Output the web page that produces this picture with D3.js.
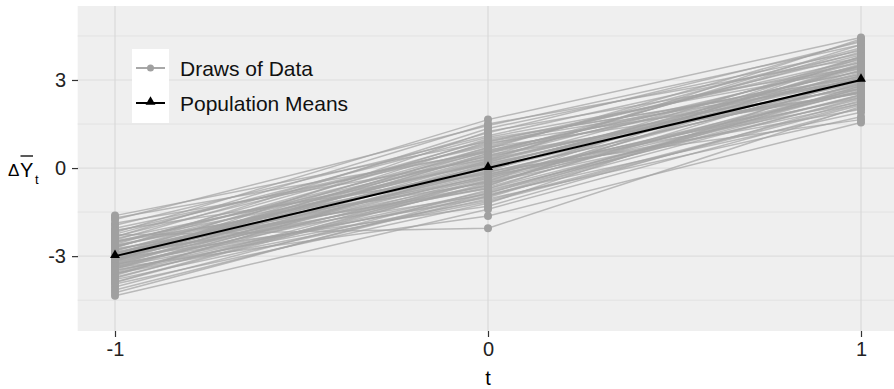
<!DOCTYPE html>
<html>
<head>
<meta charset="utf-8">
<script src="https://cdn.jsdelivr.net/npm/d3@7"></script>
<style>
  html, body { margin: 0; padding: 0; background: #ffffff; }
  svg { display: block; font-family: "Liberation Sans", Arial, sans-serif; }
</style>
</head>
<body>
<div id="chart"></div>
<script>
// ---------------- data ----------------
const times = [-1, 0, 1];
const xTickLabels = ["-1", "0", "1"];
const yTicks = [-3, 0, 3];
const yTickLabels = ["-3", "0", "3"];
const yMinorTicks = [-4.5, -1.5, 1.5, 4.5];
const populationMeans = [-3, 0, 3];

// draws of data: value at t = -1, t = 0, t = 1 (one entry per draw)
const drawsTminus1 = [
  -1.62, -1.75, -1.88, -1.95, -2.05, -2.12, -2.20, -2.28, -2.33, -2.40,
  -2.45, -2.50, -2.55, -2.60, -2.63, -2.68, -2.72, -2.75, -2.80, -2.83,
  -2.86, -2.90, -2.93, -2.96, -2.98, -3.01, -3.04, -3.07, -3.10, -3.12,
  -3.15, -3.18, -3.21, -3.25, -3.28, -3.32, -3.36, -3.40, -3.45, -3.50,
  -3.55, -3.60, -3.66, -3.72, -3.80, -3.88, -3.95, -4.05, -4.15, -4.35,
  -2.15, -2.48, -2.70, -2.88, -3.00, -3.09, -3.20, -3.30, -3.42, -3.58,
  -2.25, -2.52, -2.78, -2.95, -3.05, -3.14, -3.27, -3.38, -3.62, -3.90,
  -1.70, -2.35, -2.65, -2.92, -3.02, -3.16, -3.35, -3.48, -3.75, -4.25
];
const drawsT0 = [
   0.90,  1.45,  0.30,  1.10,  0.60, -0.20,  1.65, -2.05,  0.80,  0.15,
   1.20, -0.50,  0.55,  0.95, -0.10,  0.40,  1.35, -0.70,  0.20,  0.70,
  -0.35,  0.05,  1.00, -0.90,  0.35, -0.15,  0.65, -1.30,  0.10,  0.45,
  -0.60,  1.25, -0.25,  0.25, -1.00,  0.50, -0.45, -1.63,  0.00, -0.80,
  -0.30, -1.15,  0.15, -0.55, -1.05, -0.40, -1.20, -0.75, -0.95, -1.40,
   0.75, -0.05,  0.85, -0.60,  0.30, -0.20,  0.60, -0.65,  0.20, -0.85,
   1.05,  0.40, -0.30,  0.50, -0.45,  0.90, -0.10, -0.95,  0.05, -0.50,
   0.55,  1.50, -0.15,  0.25, -0.70,  0.70, -0.25, -1.10, -0.35, -0.85
];
const drawsT1 = [
   3.60,  4.20,  2.90,  3.90,  3.30,  2.40,  4.45,  2.10,  3.70,  2.80,
   4.30,  2.20,  3.50,  3.10,  3.80,  2.60,  4.00,  2.50,  3.20,  4.10,
   2.70,  3.40,  3.00,  1.90,  3.60,  2.85,  4.35,  2.30,  3.15,  2.55,
   3.75,  3.45,  2.00,  3.05,  2.75,  3.95,  2.45,  1.55,  3.25,  2.65,
   3.55,  2.15,  2.95,  3.35,  1.75,  2.60,  3.10,  2.35,  2.80,  2.05,
   3.85,  3.00,  2.70,  3.50,  4.20,  2.25,  3.30,  2.90,  3.65,  2.50,
   3.40,  4.05,  2.60,  3.20,  3.80,  2.95,  1.65,  2.40,  3.45,  2.70,
   3.05,  3.75,  2.85,  4.40,  3.15,  2.55,  3.50,  2.20,  3.00,  2.80
];

const legendLabels = ["Draws of Data", "Population Means"];

// ---------------- layout ----------------
const W = 894, H = 389;
const panel = { left: 78, top: 6, bottom: 331 };

const x = d3.scaleLinear().domain([-1.1, 1.1]).range([77.7, 898.3]);
const y = d3.scaleLinear().domain([-5.55, 5.52]).range([panel.bottom, panel.top]);

const svg = d3.select("#chart").append("svg")
  .attr("width", W).attr("height", H);

// panel background
svg.append("rect")
  .attr("x", x.range()[0]).attr("y", panel.top)
  .attr("width", x.range()[1] - x.range()[0])
  .attr("height", panel.bottom - panel.top)
  .attr("fill", "#efefef");

// grid
const grid = svg.append("g");
grid.selectAll("line.minor").data(yMinorTicks).join("line")
  .attr("class", "minor")
  .attr("x1", x.range()[0]).attr("x2", x.range()[1])
  .attr("y1", d => y(d)).attr("y2", d => y(d))
  .attr("stroke", "#e2e2e2").attr("stroke-width", 1);
grid.selectAll("line.majorY").data(yTicks).join("line")
  .attr("class", "majorY")
  .attr("x1", x.range()[0]).attr("x2", x.range()[1])
  .attr("y1", d => y(d)).attr("y2", d => y(d))
  .attr("stroke", "#dedede").attr("stroke-width", 1.2);
grid.selectAll("line.majorX").data(times).join("line")
  .attr("class", "majorX")
  .attr("y1", panel.top).attr("y2", panel.bottom)
  .attr("x1", d => x(d)).attr("x2", d => x(d))
  .attr("stroke", "#d9d9d9").attr("stroke-width", 1.2);

// draws
const draws = drawsTminus1.map((v, i) => [
  [times[0], v], [times[1], drawsT0[i]], [times[2], drawsT1[i]]
]);
const line = d3.line().x(d => x(d[0])).y(d => y(d[1]));

svg.append("g").selectAll("path").data(draws).join("path")
  .attr("d", line)
  .attr("fill", "none")
  .attr("stroke", "#a4a4a4")
  .attr("stroke-opacity", 0.72)
  .attr("stroke-width", 1.5);

svg.append("g").selectAll("circle").data(draws.flat()).join("circle")
  .attr("cx", d => x(d[0])).attr("cy", d => y(d[1]))
  .attr("r", 4).attr("fill", "#a0a0a0");

// population means
const meanPts = times.map((t, i) => [t, populationMeans[i]]);
svg.append("path").datum(meanPts)
  .attr("d", line).attr("fill", "none")
  .attr("stroke", "#000").attr("stroke-width", 2);
const tri = d3.symbol().type(d3.symbolTriangle).size(42);
svg.append("g").selectAll("path").data(meanPts).join("path")
  .attr("transform", d => `translate(${x(d[0])},${y(d[1]) - 1})`)
  .attr("d", tri).attr("fill", "#000");

// axes
const yAxis = d3.axisLeft(y).tickValues(yTicks)
  .tickFormat((d, i) => yTickLabels[i]).tickSize(6).tickPadding(6);
const gy = svg.append("g").attr("transform", `translate(${panel.left},0)`).call(yAxis);
gy.select(".domain").remove();
gy.selectAll(".tick line").attr("stroke", "#333").attr("stroke-width", 1.2);
gy.selectAll(".tick text").attr("font-size", 20).attr("fill", "#222")
  .attr("font-family", "Liberation Sans, Arial, sans-serif");

const xAxis = d3.axisBottom(x).tickValues(times)
  .tickFormat((d, i) => xTickLabels[i]).tickSize(6).tickPadding(5);
const gx = svg.append("g").attr("transform", `translate(0,${panel.bottom})`).call(xAxis);
gx.select(".domain").remove();
gx.selectAll(".tick line").attr("stroke", "#333").attr("stroke-width", 1.2);
gx.selectAll(".tick text").attr("font-size", 20).attr("fill", "#222")
  .attr("font-family", "Liberation Sans, Arial, sans-serif");

// axis titles
svg.append("text").attr("x", x(0)).attr("y", 385)
  .attr("text-anchor", "middle").attr("font-size", 20).attr("fill", "#000")
  .text("t");

const yl = svg.append("g");
yl.append("text").attr("x", 8).attr("y", 176).attr("font-size", 17).text("Δ");
yl.append("text").attr("x", 20).attr("y", 177).attr("font-size", 20).text("Y");
yl.append("line").attr("x1", 20.5).attr("x2", 33).attr("y1", 156).attr("y2", 156)
  .attr("stroke", "#000").attr("stroke-width", 1.3);
yl.append("text").attr("x", 35).attr("y", 184).attr("font-size", 13).text("t");

// legend
const lg = svg.append("g");
lg.append("rect").attr("x", 132).attr("y", 49).attr("width", 37).attr("height", 74)
  .attr("fill", "#fff");
const ly = [68, 103];
lg.append("line").attr("x1", 136).attr("x2", 165).attr("y1", ly[0]).attr("y2", ly[0])
  .attr("stroke", "#a8a8a8").attr("stroke-width", 2);
lg.append("circle").attr("cx", 150.5).attr("cy", ly[0]).attr("r", 3.5).attr("fill", "#a0a0a0");
lg.append("line").attr("x1", 136).attr("x2", 165).attr("y1", ly[1]).attr("y2", ly[1])
  .attr("stroke", "#000").attr("stroke-width", 2);
lg.append("path").attr("transform", `translate(150.5,${ly[1] - 1})`).attr("d", tri).attr("fill", "#000");
lg.selectAll("text").data(legendLabels).join("text")
  .attr("x", 180).attr("y", (d, i) => ly[i] + 8)
  .attr("font-size", 21).attr("fill", "#111")
  .text(d => d);
</script>
</body>
</html>
